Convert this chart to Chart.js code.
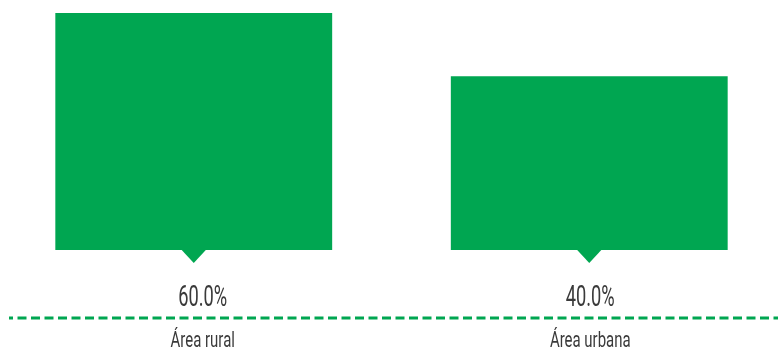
<!DOCTYPE html>
<html>
<head>
<meta charset="utf-8">
<script src="https://cdn.jsdelivr.net/npm/chart.js@4.4.1/dist/chart.umd.min.js"></script>
<style>
  html, body { margin: 0; padding: 0; background: #fff; overflow: hidden; }
  #wrap { position: relative; width: 791px; height: 348px; margin-left: -4px; }
</style>
</head>
<body>
<div id="wrap"><canvas id="chart"></canvas></div>
<script>
const categories = ['Área rural', 'Área urbana'];
const shares = [60.0, 40.0];
const axisMin = -15;
const axisMax = 60;

const green = '#00a651';
const textColor = '#3a3a3a';
// the texts under the first bar sit a little right of its centre in the original
const textNudge = [9, 1];

// the original uses a condensed face, so squeeze the text horizontally
function squeezedText(ctx, text, x, y, sx) {
    ctx.save();
    ctx.translate(x, y);
    ctx.scale(sx, 1);
    ctx.fillText(text, 0, 0);
    ctx.restore();
}

// draws the pointer under each bar, the value, the dashed rule and the category names
const decorations = {
    id: 'decorations',
    afterDatasetsDraw(chart) {
        const ctx = chart.ctx;
        const meta = chart.getDatasetMeta(0);
        ctx.save();

        meta.data.forEach((bar, i) => {
            const x = bar.x;
            const bottom = bar.base;
            ctx.fillStyle = green;
            ctx.beginPath();
            ctx.moveTo(x - 13, bottom - 1);
            ctx.lineTo(x + 13, bottom - 1);
            ctx.lineTo(x, bottom + 13);
            ctx.closePath();
            ctx.fill();

            const tx = x + textNudge[i];
            ctx.fillStyle = textColor;
            ctx.textAlign = 'center';
            ctx.textBaseline = 'alphabetic';
            ctx.font = '400 29px Roboto, sans-serif';
            squeezedText(ctx, shares[i].toFixed(1) + '%', tx, bottom + 56, 0.63);

            ctx.font = '400 22px Roboto, sans-serif';
            squeezedText(ctx, categories[i], tx, bottom + 97, 0.68);
        });

        // dashed rule across the page
        ctx.strokeStyle = green;
        ctx.lineWidth = 3;
        ctx.setLineDash([9, 4.5]);
        ctx.lineDashOffset = 5;
        ctx.beginPath();
        ctx.moveTo(13, 318);
        ctx.lineTo(chart.width, 318);
        ctx.stroke();

        ctx.restore();
    }
};

new Chart(document.getElementById('chart'), {
    type: 'bar',
    data: {
        labels: categories,
        datasets: [{
            data: shares,
            base: axisMin,
            backgroundColor: green,
            borderWidth: 0,
            barPercentage: 0.7,
            categoryPercentage: 1
        }]
    },
    options: {
        responsive: true,
        maintainAspectRatio: false,
        animation: false,
        layout: { padding: { top: 13, bottom: 98, left: 0, right: 0 } },
        plugins: {
            legend: { display: false },
            tooltip: { enabled: false }
        },
        scales: {
            x: { display: false },
            y: { display: false, min: axisMin, max: axisMax }
        }
    },
    plugins: [decorations]
});
</script>
</body>
</html>
